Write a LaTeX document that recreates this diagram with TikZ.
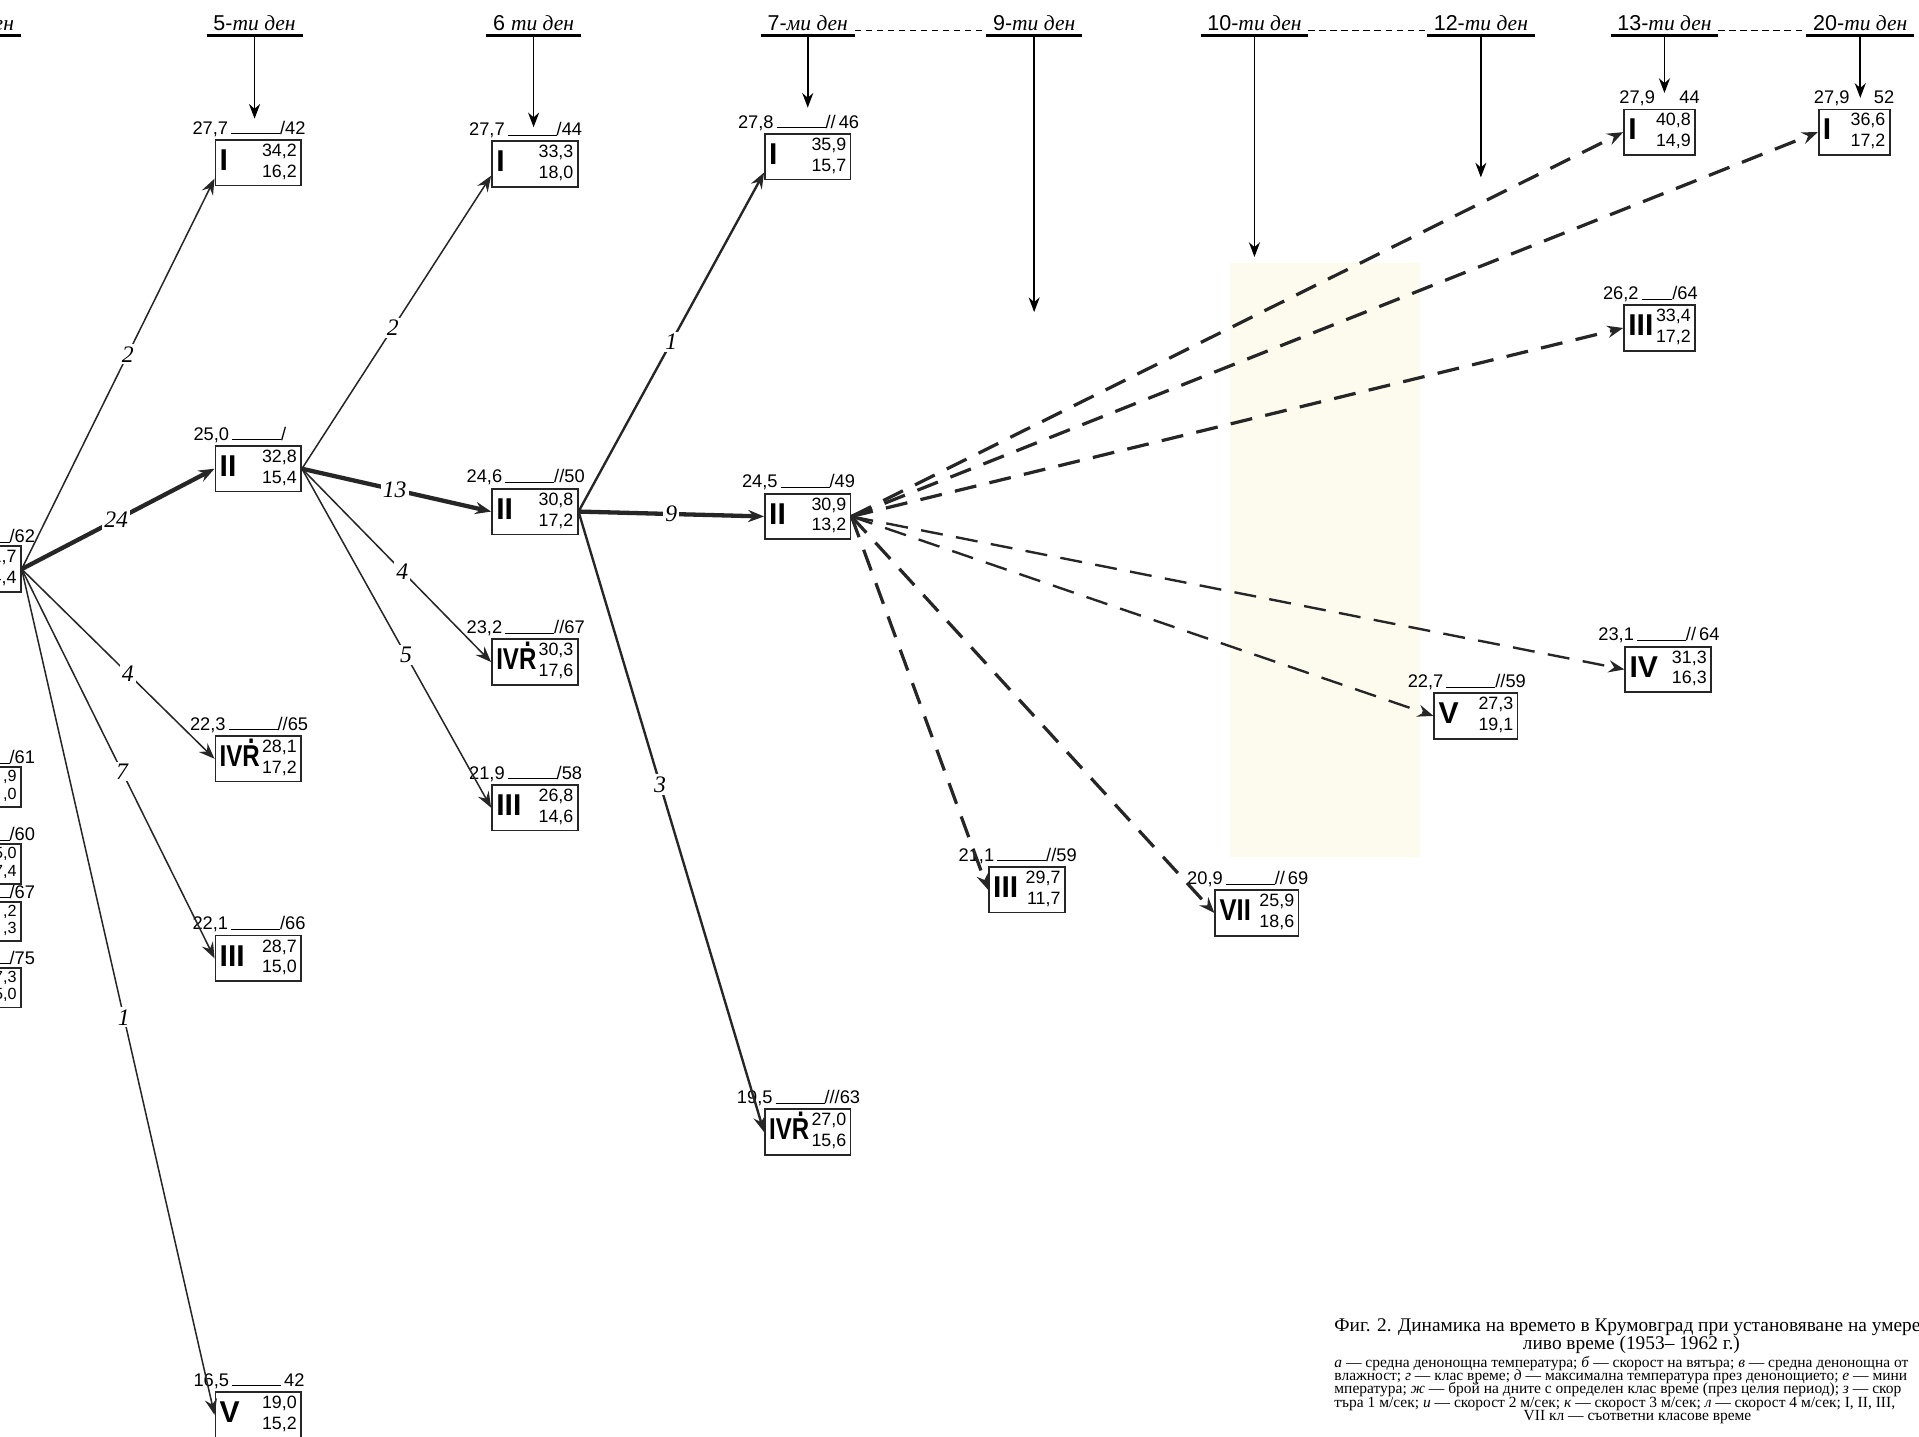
\documentclass[tikz,border=0pt]{standalone}
\usepackage{fontspec}
\setmainfont{Liberation Serif}
\setsansfont{Liberation Sans}
\usetikzlibrary{arrows.meta}
\newcommand\wc[3]{\raisebox{-1.6pt}{\fontsize{14}{14}\selectfont\bfseries #1}\hfill\llap{\begin{tabular}{@{}r@{}}#2\\#3\end{tabular}}}
\newcommand\tp[3][8mm]{#2\,\rule[-0.1pt]{#1}{0.5pt}#3}
\newcommand\Rd{\ooalign{R\cr\hidewidth\raisebox{0.78em}{.}\hidewidth\cr}}
\newcommand\ivr{\scalebox{0.8}[1]{IV\Rd}}
\definecolor{yband}{RGB}{252,251,238}
\tikzset{wb/.style={draw=black!85,line width=0.8pt,text width=#1,inner xsep=2pt,inner ysep=1pt,
 minimum height=7.2mm,align=left,font=\sffamily\fontsize{8.3}{9.6}\selectfont},wb/.default=12.6mm,
 lb/.style={font=\sffamily\fontsize{8.5}{9}\selectfont,inner sep=1pt,xshift=-1.5mm},
 sm/.style={font=\sffamily\fontsize{7.5}{8.2}\selectfont,minimum height=6.4mm},
 arr/.style={-{Stealth[length=2.6mm,width=2mm,inset=0.9mm]},line width=0.7pt,draw=black!85},
 arrm/.style={arr,line width=1.1pt},arrb/.style={arr,line width=2pt},
 darr/.style={arr,dash pattern=on 3.6mm off 2.2mm,line width=1.5pt},darrt/.style={darr,line width=1.1pt},
 el/.style={fill=white,inner sep=1pt,font=\itshape\fontsize{11}{11}\selectfont}}
\tikzset{hd/.style={font=\fontsize{10}{10}\selectfont,inner xsep=3pt,inner ysep=2pt,anchor=base},
 bar/.style={line width=1.6pt},harr/.style={-{Stealth[length=2.4mm,width=1.8mm]},line width=0.8pt},
 hdash/.style={dash pattern=on 1mm off 0.8mm,line width=0.6pt},
 capt/.style={font=\fontsize{9}{10}\selectfont,inner sep=0pt},
 capts/.style={font=\fontsize{7.2}{7.4}\selectfont,inner sep=0pt}}
\begin{document}
\begin{tikzpicture}[x=0.2mm,y=-0.2mm]
\path[use as bounding box] (0,0) rectangle (1568,1174);
\clip (0,0) rectangle (1568,1174);
\fill[white] (0,0) rectangle (1568,1174);
\fill[yband] (1005,215) rectangle (1160,700);
\node[hd,anchor=base east] (h4) at (17,25) {\textit{ден}};
\node[hd] (h5) at (208,25) {{\sffamily 5-}\textit{ти ден}};
\node[hd] (h6) at (436,25) {{\sffamily 6 }\textit{ти ден}};
\node[hd] (h7) at (660,25) {{\sffamily 7-}\textit{ми ден}};
\node[hd] (h9) at (845,25) {{\sffamily 9-}\textit{ти ден}};
\node[hd] (h10) at (1025,25) {{\sffamily 10-}\textit{ти ден}};
\node[hd] (h12) at (1210,25) {{\sffamily 12-}\textit{ти ден}};
\node[hd] (h13) at (1360,25) {{\sffamily 13-}\textit{ти ден}};
\node[hd] (h20) at (1520,25) {{\sffamily 20-}\textit{ти ден}};
\foreach \h in {h4,h5,h6,h7,h9,h10,h12,h13,h20}
 \draw[bar] (\h.south west) -- (\h.south east);
\draw[hdash] (h7.base east) -- (h9.base west);
\draw[hdash] (h10.base east) -- (h12.base west);
\draw[hdash] (h13.base east) -- (h20.base west);
\coordinate (t5) at (208,97);
\coordinate (t6) at (436,104);
\coordinate (t7) at (660,88);
\coordinate (t9) at (845,255);
\coordinate (t10) at (1025,210);
\coordinate (t12) at (1210,145);
\coordinate (t13) at (1360,76);
\coordinate (t20) at (1520,80);
\draw[harr] (h5.south) -- (t5);
\draw[harr] (h6.south) -- (t6);
\draw[harr] (h7.south) -- (t7);
\draw[harr] (h9.south) -- (t9);
\draw[harr] (h10.south) -- (t10);
\draw[harr] (h12.south) -- (t12);
\draw[harr] (h13.south) -- (t13);
\draw[harr] (h20.south) -- (t20);
\node[wb,label={[lb,xshift=4.5mm]above:{\tp{}{/62}}}] (L0) at (-18,465) {\wc{}{1,7}{4,4}};
\node[wb,sm,label={[lb,xshift=4.5mm]above:{\tp{}{/61}}}] (Lp1) at (-18,643) {\wc{}{,9}{,0}};
\node[wb,sm,label={[lb,xshift=4.5mm]above:{\tp{}{/60}}}] (Lp2) at (-18,706) {\wc{}{5,0}{7,4}};
\node[wb,sm,label={[lb,xshift=4.5mm]above:{\tp{}{/67}}}] (Lp3) at (-18,753) {\wc{}{,2}{,3}};
\node[wb,sm,label={[lb,xshift=4.5mm]above:{\tp{}{/75}}}] (Lp4) at (-18,807) {\wc{}{7,3}{5,0}};
\node[wb,label={[lb]above:{\tp{27,7}{/42}}}] (A1) at (211,133) {\wc{I}{34,2}{16,2}};
\node[wb,label={[lb,xshift=-1.5mm]above:{\tp{25,0}{/}}}] (A2) at (211,383) {\wc{II}{32,8}{15,4}};
\node[wb,label={[lb]above:{\tp{22,3}{//65}}}] (A3) at (211,620) {\wc{\ivr}{28,1}{17,2}};
\node[wb,label={[lb]above:{\tp{22,1}{/66}}}] (A4) at (211,783) {\wc{III}{28,7}{15,0}};
\node[wb,label={[lb]above:{\tp{16,5}{\,42}}}] (A5) at (211,1156) {\wc{V}{19,0}{15,2}};
\node[wb,label={[lb]above:{\tp{27,7}{/44}}}] (B1) at (437,134) {\wc{I}{33,3}{18,0}};
\node[wb,label={[lb]above:{\tp{24,6}{//50}}}] (B2) at (437,418) {\wc{II}{30,8}{17,2}};
\node[wb,label={[lb]above:{\tp{23,2}{//67}}}] (B3) at (437,541) {\wc{\ivr}{30,3}{17,6}};
\node[wb,label={[lb]above:{\tp{21,9}{/58}}}] (B4) at (437,660) {\wc{III}{26,8}{14,6}};
\node[wb,label={[lb]above:{\tp{27,8}{//\,46}}}] (C1) at (660,128) {\wc{I}{35,9}{15,7}};
\node[wb,label={[lb]above:{\tp{24,5}{/49}}}] (C2) at (660,422) {\wc{II}{30,9}{13,2}};
\node[wb,label={[lb]above:{\tp{19,5}{///63}}}] (C3) at (660,925) {\wc{\ivr}{27,0}{15,6}};
\node[wb=11mm,label={[lb]above:{\tp{21,1}{//59}}}] (D1) at (839,727) {\wc{III}{29,7}{11,7}};
\node[wb=12.2mm,label={[lb]above:{\tp{20,9}{//\,69}}}] (D2) at (1027,746) {\wc{\scalebox{0.85}[1]{VII}}{25,9}{18,6}};
\node[wb=12.2mm,label={[lb]above:{\tp{22,7}{//59}}}] (E1) at (1206,585) {\wc{V}{27,3}{19,1}};
\node[wb,label={[lb]above:{\tp{23,1}{//\,64}}}] (E2) at (1363,547) {\wc{IV}{31,3}{16,3}};
\node[wb=10.2mm,label={[lb,xshift=1.5mm]above:{27,9\hspace{4mm}44}}] (F1) at (1356,108) {\wc{I}{40,8}{14,9}};
\node[wb=10.2mm,label={[lb]above:{\tp[5mm]{26,2}{/64}}}] (F2) at (1356,268) {\wc{III}{33,4}{17,2}};
\node[wb=10.2mm,label={[lb,xshift=1.5mm]above:{27,9\hspace{4mm}52}}] (G1) at (1515,108) {\wc{I}{36,6}{17,2}};
\draw[arr] (L0.east) -- node[el,pos=.55]{2} (A1.200);
\draw[arrb] (L0.east) -- node[el,pos=.49]{24} (A2.west);
\draw[arr] (L0.east) -- node[el,pos=.55]{4} (A3.west);
\draw[arr] (L0.east) -- node[el,pos=.52]{7} (A4.west);
\draw[arr] (L0.east) -- node[el,pos=.53]{1} (A5.west);
\draw[arr] (A2.east) -- node[el,pos=.48]{2} (B1.195);
\draw[arrb] (A2.east) -- node[el,pos=.49]{13} (B2.west);
\draw[arr] (A2.east) -- node[el,pos=.53]{4} (B3.west);
\draw[arr] (A2.east) -- node[el,pos=.55]{5} (B4.west);
\draw[arrm] (B2.east) -- node[el,pos=.5]{1} (C1.200);
\draw[arrb] (B2.east) -- node[el,pos=.5]{9} (C2.west);
\draw[arrm] (B2.east) -- node[el,pos=.44]{3} (C3.west);
\draw[darr] (C2.east) -- (F1.west);
\draw[darr] (C2.east) -- (G1.west);
\draw[darr] (C2.east) -- (F2.west);
\draw[darrt] (C2.east) -- (E2.west);
\draw[darrt] (C2.east) -- (E1.west);
\draw[darr] (C2.east) -- (D2.west);
\draw[darr] (C2.east) -- (D1.west);
\node[capt,anchor=base west] (c1) at (1090,1088) {Фиг. 2. Динамика на времето в Крумовград при установяване на умерен};
\node[capt,anchor=base] (c2) at (1333,1103) {ливо време (1953– 1962 г.)};
\node[capts,anchor=base west] (c3) at (1090,1117) {\textit{а} — средна денонощна температура; \textit{б} — скорост на вятъра; \textit{в} — средна денонощна от};
\node[capts,anchor=base west] (c4) at (1090,1128) {влажност; \textit{г} — клас време; \textit{д} — максимална температура през денонощието; \textit{е} — мини};
\node[capts,anchor=base west] (c5) at (1090,1139) {мпература; \textit{ж} — брой на дните с определен клас време (през целия период); \textit{з} — скор};
\node[capts,anchor=base west] (c6) at (1090,1150) {търа 1 м/сек; \textit{и} — скорост 2 м/сек; \textit{к} — скорост 3 м/сек; \textit{л} — скорост 4 м/сек; I, II, III,};
\node[capts,anchor=base] (c7) at (1338,1161) {VII кл — съответни класове време};
\end{tikzpicture}
\end{document}
